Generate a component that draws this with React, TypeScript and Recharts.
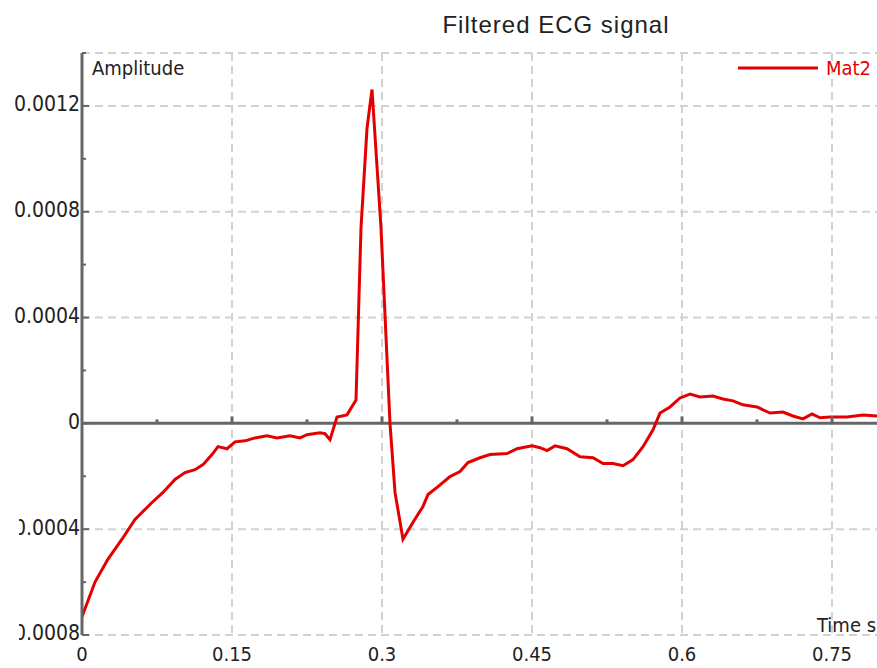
import React from 'react';
import { LineChart, Line, XAxis, YAxis, CartesianGrid, ReferenceLine, ReferenceDot } from 'recharts';

// time (s) and filtered amplitude
const timeS = [
  0, 0.013, 0.026, 0.04, 0.053, 0.07, 0.081, 0.093, 0.103, 0.113, 0.121, 0.13, 0.136, 0.145,
  0.153, 0.163, 0.173, 0.185, 0.195, 0.208, 0.218, 0.225, 0.238, 0.243, 0.248, 0.255, 0.265,
  0.274, 0.279, 0.285, 0.29, 0.299, 0.308, 0.313, 0.321, 0.331, 0.341, 0.346, 0.356, 0.368,
  0.378, 0.386, 0.398, 0.408, 0.425, 0.435, 0.45, 0.458, 0.465, 0.473, 0.485, 0.498, 0.511,
  0.521, 0.531, 0.541, 0.551, 0.561, 0.571, 0.578, 0.588, 0.598, 0.608, 0.618, 0.631, 0.641,
  0.651, 0.661, 0.675, 0.688, 0.701, 0.711, 0.721, 0.73, 0.738, 0.748, 0.765, 0.781, 0.795,
];
const mat2 = [
  -0.000731, -0.0006, -0.000513, -0.000438, -0.000363, -0.000299, -0.000261, -0.000212,
  -0.000186, -0.000175, -0.000156, -0.000118, -0.000088, -0.000096, -0.00007, -0.000066,
  -0.000055, -0.000047, -0.000055, -0.000047, -0.000055, -0.000043, -0.000036, -0.000039,
  -0.000062, 0.000024, 0.000032, 0.000088, 0.000739, 0.001115, 0.001262, 0.000739, 0,
  -0.000261, -0.000438, -0.000374, -0.000314, -0.000269, -0.000239, -0.000201, -0.000182,
  -0.000148, -0.00013, -0.000118, -0.000114, -0.000096, -0.000085, -0.000092, -0.000103,
  -0.000085, -0.000096, -0.000126, -0.00013, -0.000152, -0.000152, -0.00016, -0.000137,
  -0.000088, -0.000024, 0.000039, 0.000062, 0.000096, 0.000111, 0.0001, 0.000103, 0.000092,
  0.000085, 0.00007, 0.000062, 0.000039, 0.000043, 0.000028, 0.000017, 0.000036, 0.000021,
  0.000024, 0.000024, 0.000032, 0.000028,
];

const xTicks = [0, 0.15, 0.3, 0.45, 0.6, 0.75];
const xMinor = [0.075, 0.15, 0.225, 0.3, 0.375, 0.45, 0.525, 0.6, 0.675, 0.75];
const yTicks = [-0.0008, -0.0006, -0.0004, -0.0002, 0, 0.0002, 0.0004, 0.0006, 0.0008, 0.001, 0.0012, 0.0014];
const yLabels = [-0.0008, -0.0004, 0, 0.0004, 0.0008, 0.0012];
const yGrid = [-0.0008, -0.0004, 0.0004, 0.0008, 0.0012, 0.0014];

const data = timeS.map((t, i) => ({ t, v: mat2[i] }));

const RED = '#e40000';
const AXIS = '#666';
const FONT = "'DejaVu Sans Condensed', 'DejaVu Sans', sans-serif";

function YTick(props: any) {
  const { x, y, payload } = props;
  const v = payload.value;
  const major = yLabels.some((m) => Math.abs(m - v) < 1e-9);
  const label = v === 0 ? '0' : v.toFixed(4);
  return (
    <g>
      <line x1={x + 2} x2={x + (major ? 9 : 6)} y1={y} y2={y} stroke={AXIS} strokeWidth={2} />
      {major && (
        <text
          x={x}
          y={y - 2}
          dy="0.355em"
          textAnchor="end"
          fill="#222"
          fontSize={21}
          style={v < 0 ? { clipPath: 'inset(0 0 0 12px)' } : undefined}
        >
          {label}
        </text>
      )}
    </g>
  );
}

function ZeroTick(props: any) {
  const { cx, cy, major } = props;
  const h = major ? 7 : 4;
  return <rect x={cx - 1.5} y={cy - h} width={3} height={h} fill={AXIS} />;
}

export default function App() {
  return (
    <div style={{ position: 'absolute', left: 0, top: 0, width: 877, height: 668, overflow: 'hidden', background: '#fff', fontFamily: FONT }}>
      <LineChart width={877} height={668} data={data} margin={{ top: 53, right: 0, left: 0, bottom: 0 }}>
        <CartesianGrid
          stroke="#d2d2d2"
          strokeWidth={2}
          strokeDasharray="8 5"
          horizontalValues={yGrid}
          verticalValues={xTicks.slice(1)}
        />
        <XAxis
          type="number"
          dataKey="t"
          domain={[0, 0.795]}
          ticks={xTicks}
          interval={0}
          allowDataOverflow
          axisLine={false}
          tickLine={false}
          tickSize={0}
          tickMargin={12}
          height={33}
          tick={{ fill: '#222', fontSize: 20 }}
        />
        <YAxis
          type="number"
          domain={[-0.0008, 0.0014]}
          ticks={yTicks}
          interval={0}
          allowDataOverflow
          width={82}
          axisLine={{ stroke: AXIS, strokeWidth: 3 }}
          tickLine={false}
          tickSize={0}
          tickMargin={2}
          tick={(p: any) => <YTick {...p} />}
        />
        <ReferenceLine y={0} stroke={AXIS} strokeWidth={3} />
        {xMinor.map((t, i) => (
          <ReferenceDot
            key={t}
            x={t}
            y={0}
            r={2}
            shape={(p: any) => <ZeroTick {...p} major={i % 2 === 1} />}
          />
        ))}
        <Line
          type="linear"
          dataKey="v"
          name="Mat2"
          stroke={RED}
          strokeWidth={3}
          dot={false}
          isAnimationActive={false}
        />
      </LineChart>
      <svg width={877} height={668} style={{ position: 'absolute', left: 0, top: 0, pointerEvents: 'none' }}>
        <text x={556} y={33} textAnchor="middle" fontFamily="'Liberation Sans', Arial, sans-serif" fontSize={24} letterSpacing={1} fill="#222">
          Filtered ECG signal
        </text>
        <text x={92} y={75} fontSize={20} fill="#222">Amplitude</text>
        <text x={817} y={632} fontSize={20} fill="#222">Time s</text>
        {/* legend */}
        <line x1={738} x2={818} y1={68} y2={68} stroke={RED} strokeWidth={3} />
        <text x={826} y={75} fontSize={20} fill={RED}>Mat2</text>
      </svg>
    </div>
  );
}
